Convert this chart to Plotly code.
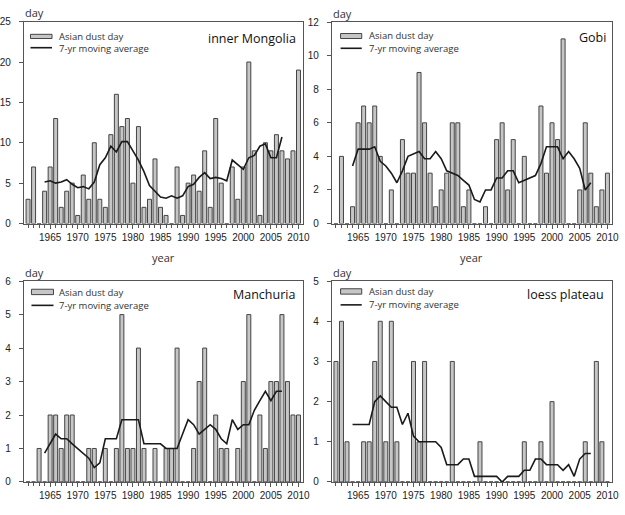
import plotly.graph_objects as go

YEARS = list(range(1961, 2011))
MA_YEARS = list(range(1964, 2008))

inner_mongolia = [3, 7, 0, 4, 7, 13, 2, 4, 5, 1,
                  6, 3, 10, 3, 2, 11, 16, 12, 13, 5,
                  12, 2, 3, 8, 2, 1, 0, 7, 1, 5,
                  6, 4, 9, 2, 13, 5, 0, 7, 3, 7,
                  20, 9, 1, 10, 9, 11, 9, 8, 9, 19]
inner_mongolia_ma = [5.14, 5.29, 5.00, 5.14, 5.43, 4.86, 4.43, 4.57, 4.29, 5.14,
                     7.29, 8.14, 9.57, 8.86, 10.14, 10.14, 9.00, 7.86, 6.43, 4.71,
                     4.00, 3.29, 3.14, 3.43, 3.14, 3.43, 4.57, 4.86, 5.71, 6.29,
                     5.57, 5.71, 5.57, 5.29, 7.86, 7.29, 6.71, 8.14, 8.43, 9.57,
                     9.86, 8.14, 8.14, 10.71]

gobi = [0, 4, 0, 1, 6, 7, 6, 7, 4, 0,
        2, 0, 5, 3, 3, 9, 6, 3, 1, 2,
        3, 6, 6, 1, 2, 0, 0, 1, 0, 5,
        6, 2, 5, 0, 4, 0, 0, 7, 3, 6,
        5, 11, 0, 0, 2, 6, 3, 1, 2, 3]
gobi_ma = [3.43, 4.43, 4.43, 4.43, 4.57, 3.71, 3.43, 3.00, 2.43, 3.14,
           4.00, 4.14, 4.29, 3.86, 3.86, 4.29, 3.86, 3.14, 3.00, 2.86,
           2.57, 2.29, 1.43, 1.29, 2.00, 2.00, 2.71, 2.71, 3.14, 3.14,
           2.43, 2.57, 2.71, 2.86, 3.57, 4.57, 4.57, 4.57, 3.86, 4.29,
           3.86, 3.29, 2.00, 2.43]

manchuria = [0, 0, 1, 0, 2, 2, 1, 2, 2, 0,
             0, 1, 1, 0, 1, 0, 1, 5, 1, 1,
             4, 1, 0, 1, 0, 1, 1, 4, 0, 0,
             1, 3, 4, 0, 2, 1, 1, 0, 1, 3,
             5, 0, 2, 1, 3, 3, 5, 3, 2, 2]
manchuria_ma = [0.86, 1.14, 1.43, 1.29, 1.29, 1.14, 1.00, 0.86, 0.71, 0.43,
                0.57, 1.29, 1.29, 1.29, 1.86, 1.86, 1.86, 1.86, 1.14, 1.14,
                1.14, 1.14, 1.00, 1.00, 1.00, 1.43, 1.86, 1.71, 1.43, 1.57,
                1.71, 1.57, 1.29, 1.14, 1.86, 1.57, 1.71, 1.71, 2.14, 2.43,
                2.71, 2.43, 2.71, 2.71]

loess = [3, 4, 1, 0, 0, 1, 1, 3, 4, 1,
         4, 1, 0, 0, 3, 1, 3, 0, 0, 0,
         0, 3, 0, 0, 0, 0, 1, 0, 0, 0,
         0, 0, 0, 0, 1, 0, 0, 1, 0, 2,
         0, 0, 0, 0, 0, 1, 0, 3, 1, 0]
loess_ma = [1.43, 1.43, 1.43, 1.43, 2.00, 2.14, 2.00, 1.86, 1.86, 1.43,
            1.71, 1.14, 1.00, 1.00, 1.00, 1.00, 0.86, 0.43, 0.43, 0.43,
            0.57, 0.57, 0.14, 0.14, 0.14, 0.14, 0.14, 0.00, 0.14, 0.14,
            0.14, 0.29, 0.29, 0.57, 0.57, 0.43, 0.43, 0.43, 0.29, 0.43,
            0.14, 0.57, 0.71, 0.71]

PANEL_NAMES = ["inner Mongolia", "Gobi", "Manchuria", "loess plateau"]
Y_MAX = [25, 12, 6, 5]
Y_DTICK = [5, 2, 1, 1]
X_TICKS = [1965, 1970, 1975, 1980, 1985, 1990, 1995, 2000, 2005, 2010]
X_TICK_LABELS = ["1965", "1970", "1975", "1980", "1985", "1990", "1995", "2000", "2005", "2010"]
LEGEND_LABELS = ["Asian dust day", "7-yr moving average"]

BARS = [inner_mongolia, gobi, manchuria, loess]
MAS = [inner_mongolia_ma, gobi_ma, manchuria_ma, loess_ma]

W, H = 625, 515


def px(x):
    return x / W


def py(y):
    return 1 - y / H


# panel boxes in pixels: (left, top, right, bottom)
BOXES = [(18.3, 16, 303.5, 222.7),
         (332.7, 16.5, 619, 222.7),
         (18.3, 281.7, 303.5, 487.3),
         (332.7, 281.7, 619, 487.3)]

FONT = "Liberation Sans, Arial, sans-serif"
TFONT = "Open Sans, Noto Sans, sans-serif"
TXT = "#222222"
AXC = "#555555"

fig = go.Figure()
layout = dict(width=W, height=H, margin=dict(l=0, r=0, t=0, b=0),
              paper_bgcolor="white", plot_bgcolor="white", showlegend=False,
              font=dict(family=FONT, size=10, color=TXT))
annotations = []
shapes = []

# legend geometry per panel (pixels)
LEG = [dict(rx0=25, rx1=47, ry0=29, ry1=33.3, ly=42.7, tx=52, t1=30.8, t2=43.5),
       dict(rx0=341.7, rx1=363.3, ry0=28.2, ry1=33.3, ly=43.3, tx=368.3, t1=30.5, t2=43.5),
       dict(rx0=26, rx1=48.5, ry0=290, ry1=295.5, ly=306.5, tx=52.3, t1=293, t2=306.2),
       dict(rx0=341.7, rx1=363.3, ry0=289.5, ry1=295, ly=306, tx=368.3, t1=292.5, t2=305.5)]
TITLE_POS = [(298.3, 33), (614.3, 32.7), (296.7, 295.7), (612.3, 295.7)]

for i in range(4):
    n = "" if i == 0 else str(i + 1)
    l, t, r, b = BOXES[i]
    fig.add_trace(go.Bar(x=YEARS, y=BARS[i], width=0.72, xaxis="x" + n, yaxis="y" + n,
                         marker=dict(color="#c6c6c6", line=dict(color="#444444", width=1)),
                         name=LEGEND_LABELS[0]))
    fig.add_trace(go.Scatter(x=MA_YEARS, y=MAS[i], mode="lines", xaxis="x" + n, yaxis="y" + n,
                             line=dict(color="#1a1a1a", width=1.6), name=LEGEND_LABELS[1]))
    layout["xaxis" + n] = dict(domain=[px(l), px(r)], anchor="y" + n, range=[1960.25, 2010.85],
                               tickmode="array", tickvals=X_TICKS, ticktext=X_TICK_LABELS,
                               ticks="outside", ticklen=4, tickcolor=AXC, tickwidth=1,
                               minor=dict(dtick=1, tick0=1960, ticks="outside", ticklen=3,
                                          tickcolor=AXC, tickwidth=1, showgrid=False),
                               showline=True, linecolor=AXC, linewidth=1, mirror=True,
                               showgrid=False, zeroline=False,
                               tickfont=dict(family=FONT, size=10, color=TXT))
    layout["yaxis" + n] = dict(domain=[py(b), py(t)], anchor="x" + n, range=[0, Y_MAX[i]],
                               dtick=Y_DTICK[i], tick0=0,
                               ticks="outside", ticklen=4, tickcolor=AXC, tickwidth=1,
                               showline=True, linecolor=AXC, linewidth=1, mirror=True,
                               showgrid=False, zeroline=False, ticklabelstandoff=6,
                               tickfont=dict(family=FONT, size=10, color=TXT))
    # "day" label
    annotations.append(dict(text="day", xref="paper", yref="paper", x=px(l - 1), y=py(t - 9),
                            xanchor="left", yanchor="middle", showarrow=False,
                            font=dict(family=TFONT, size=11, color="#333333")))
    # panel title
    tx, ty = TITLE_POS[i]
    annotations.append(dict(text=PANEL_NAMES[i], xref="paper", yref="paper", x=px(tx), y=py(ty),
                            xanchor="right", yanchor="middle", showarrow=False,
                            font=dict(family=TFONT, size=12.5, color="#111111")))
    # legend
    g = LEG[i]
    shapes.append(dict(type="rect", xref="paper", yref="paper", x0=px(g["rx0"]), x1=px(g["rx1"]),
                       y0=py(g["ry1"]), y1=py(g["ry0"]), fillcolor="#c6c6c6",
                       line=dict(color="#444444", width=1)))
    shapes.append(dict(type="line", xref="paper", yref="paper", x0=px(g["rx0"]), x1=px(g["rx1"]),
                       y0=py(g["ly"]), y1=py(g["ly"]), line=dict(color="#1a1a1a", width=1.6)))
    annotations.append(dict(text=LEGEND_LABELS[0], xref="paper", yref="paper", x=px(g["tx"]),
                            y=py(g["t1"]), xanchor="left", yanchor="middle", showarrow=False,
                            font=dict(family=TFONT, size=9.5, color="#333333")))
    annotations.append(dict(text=LEGEND_LABELS[1], xref="paper", yref="paper", x=px(g["tx"]),
                            y=py(g["t2"]), xanchor="left", yanchor="middle", showarrow=False,
                            font=dict(family=TFONT, size=9.5, color="#333333")))

# "year" x-axis titles of top panels
for cx in [(BOXES[0][0] + BOXES[0][2]) / 2, (BOXES[1][0] + BOXES[1][2]) / 2]:
    annotations.append(dict(text="year", xref="paper", yref="paper", x=px(cx), y=py(257),
                            xanchor="center", yanchor="middle", showarrow=False,
                            font=dict(family=TFONT, size=11, color="#333333")))

layout["annotations"] = annotations
layout["shapes"] = shapes
fig.update_layout(**layout)
fig.write_html("out.html")
